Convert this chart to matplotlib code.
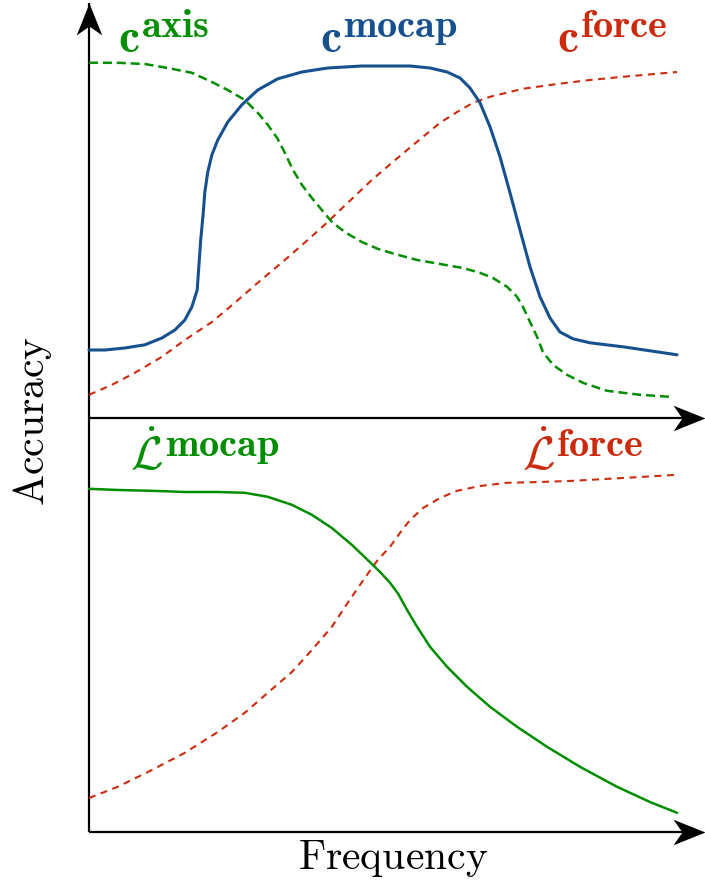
import matplotlib
matplotlib.use("Agg")
import matplotlib.pyplot as plt
from matplotlib.path import Path

plt.rcParams["mathtext.fontset"] = "cm"
plt.rcParams["lines.scale_dashes"] = False

# ---------------- data (frequency in [0,1], accuracy in axis units) ----------------
# top panel
c_mocap_f = [0, 0.027, 0.061, 0.095, 0.124, 0.146, 0.163, 0.175, 0.184, 0.187, 0.190, 0.194,
             0.197, 0.202, 0.209, 0.219, 0.236, 0.260, 0.287, 0.321, 0.362, 0.406, 0.464,
             0.520, 0.546, 0.580, 0.609, 0.631, 0.648, 0.665, 0.682, 0.699, 0.716, 0.733,
             0.750, 0.767, 0.784, 0.801, 0.823, 0.852, 0.908, 1.0]
c_mocap_v = [0.170, 0.170, 0.175, 0.183, 0.200, 0.220, 0.245, 0.278, 0.320, 0.383, 0.445, 0.508,
             0.565, 0.615, 0.658, 0.695, 0.740, 0.783, 0.820, 0.848, 0.865, 0.875, 0.880,
             0.880, 0.880, 0.875, 0.865, 0.850, 0.825, 0.788, 0.728, 0.653, 0.563, 0.470,
             0.378, 0.303, 0.250, 0.215, 0.198, 0.188, 0.178, 0.158]

c_axis_f = [0, 0.049, 0.095, 0.134, 0.175, 0.209, 0.236, 0.265, 0.287, 0.304, 0.320, 0.333,
            0.347, 0.362, 0.379, 0.396, 0.413, 0.435, 0.464, 0.491, 0.520, 0.558, 0.597,
            0.636, 0.665, 0.687, 0.711, 0.728, 0.738, 0.750, 0.762, 0.772, 0.789, 0.813,
            0.840, 0.881, 0.937, 0.988]
c_axis_v = [0.888, 0.888, 0.885, 0.875, 0.863, 0.840, 0.820, 0.795, 0.763, 0.733, 0.700, 0.663,
            0.620, 0.583, 0.550, 0.520, 0.490, 0.465, 0.440, 0.423, 0.410, 0.395, 0.385,
            0.375, 0.363, 0.350, 0.328, 0.303, 0.278, 0.240, 0.203, 0.165, 0.133, 0.108,
            0.088, 0.068, 0.058, 0.053]

c_force_f = [0, 0.039, 0.078, 0.124, 0.163, 0.209, 0.248, 0.287, 0.333, 0.372, 0.406, 0.440,
             0.481, 0.515, 0.541, 0.568, 0.597, 0.626, 0.653, 0.682, 0.738, 0.796, 0.852,
             0.908, 1.0]
c_force_v = [0.058, 0.083, 0.113, 0.153, 0.195, 0.240, 0.288, 0.338, 0.395, 0.445, 0.490, 0.538,
             0.595, 0.638, 0.670, 0.703, 0.738, 0.765, 0.788, 0.803, 0.823, 0.835, 0.845,
             0.853, 0.865]

# bottom panel
l_mocap_f = [0, 0.049, 0.107, 0.163, 0.219, 0.265, 0.304, 0.345, 0.379, 0.413, 0.447, 0.474,
             0.495, 0.512, 0.526, 0.541, 0.558, 0.580, 0.609, 0.643, 0.682, 0.728, 0.779,
             0.835, 0.898, 0.954, 1.0]
l_mocap_v = [0.858, 0.855, 0.853, 0.850, 0.850, 0.848, 0.838, 0.818, 0.793, 0.760, 0.718, 0.680,
             0.650, 0.623, 0.595, 0.555, 0.513, 0.463, 0.413, 0.363, 0.313, 0.263, 0.213,
             0.163, 0.113, 0.075, 0.048]

l_force_f = [0, 0.049, 0.107, 0.163, 0.219, 0.265, 0.304, 0.345, 0.379, 0.413, 0.440, 0.469,
             0.491, 0.512, 0.529, 0.546, 0.568, 0.597, 0.626, 0.665, 0.711, 0.767, 0.823,
             0.908, 1.0]
l_force_v = [0.085, 0.113, 0.155, 0.198, 0.250, 0.298, 0.348, 0.400, 0.455, 0.513, 0.573, 0.635,
             0.680, 0.713, 0.748, 0.780, 0.810, 0.835, 0.853, 0.865, 0.873, 0.875, 0.878,
             0.885, 0.893]

top_bases = [r"$\mathbf{c}$", r"$\mathbf{c}$", r"$\mathbf{c}$"]
top_sups = [r"$\mathbf{axis}$", r"$\mathbf{mocap}$", r"$\mathbf{force}$"]
bottom_bases = [r"$\dot{\mathcal{L}}$", r"$\dot{\mathcal{L}}$"]
bottom_sups = [r"$\mathbf{mocap}$", r"$\mathbf{force}$"]
x_label = r"$\mathrm{Frequency}$"
y_label = r"$\mathrm{Accuracy}$"

GREEN = "#008E00"
BLUE = "#17508E"
RED = "#CC2A0C"

W, H = 705, 885
fig = plt.figure(figsize=(W / 100, H / 100), dpi=100)

XMAX = 616 / 588
ax_top = fig.add_axes([89 / W, (H - 418) / H, 616 / W, 418 / H])
ax_bot = fig.add_axes([89 / W, (H - 832) / H, 616 / W, 414 / H])
ax_top.set_xlim(0, XMAX)
ax_top.set_ylim(0, 418 / 400)
ax_bot.set_xlim(0, XMAX)
ax_bot.set_ylim(0, 414 / 400)
for ax in (ax_top, ax_bot):
    ax.set_axis_off()

# arrow head markers (stealth style)
right_head = Path([(0, 0), (-1, 0.40), (-0.72, 0), (-1, -0.40), (0, 0)],
                  [Path.MOVETO, Path.LINETO, Path.LINETO, Path.LINETO, Path.CLOSEPOLY])
up_head = Path([(0, 0), (0.40, -1), (0, -0.72), (-0.40, -1), (0, 0)],
               [Path.MOVETO, Path.LINETO, Path.LINETO, Path.LINETO, Path.CLOSEPOLY])
AX_LW = 1.6
HEAD = 46

# axes lines
ax_top.plot([0, 0], [0, 415 / 400], color="black", lw=AX_LW, clip_on=False, solid_capstyle="butt")
ax_top.plot([0], [415 / 400], marker=up_head, ms=HEAD, color="black", mew=0, clip_on=False)
ax_bot.plot([0, 0], [0, 414 / 400], color="black", lw=AX_LW, clip_on=False, solid_capstyle="butt")
for ax in (ax_top, ax_bot):
    ax.plot([0, XMAX - 0.01], [0, 0], color="black", lw=AX_LW, clip_on=False, solid_capstyle="butt")
    ax.plot([XMAX], [0], marker=right_head, ms=HEAD, color="black", mew=0, clip_on=False)

# top curves
ax_top.plot(c_force_f, c_force_v, color=RED, lw=1.5, dashes=(5.0, 4.0), clip_on=False)
ax_top.plot(c_axis_f, c_axis_v, color=GREEN, lw=1.8, dashes=(6.5, 3.5), clip_on=False)
ax_top.plot(c_mocap_f, c_mocap_v, color=BLUE, lw=2.2, clip_on=False,
            solid_joinstyle="round", solid_capstyle="round")

# bottom curves
ax_bot.plot(l_force_f, l_force_v, color=RED, lw=1.5, dashes=(5.0, 4.0), clip_on=False)
ax_bot.plot(l_mocap_f, l_mocap_v, color=GREEN, lw=1.8, clip_on=False,
            solid_joinstyle="round", solid_capstyle="round")

# labels: base symbol + larger superscript placed right after it
BASE_FS = 34
SUP_FS = 29
renderer = fig.canvas.get_renderer()


def label(ax, x, y, base, sup, color, rise_pt):
    t = ax.text(x, y, base, color=color, fontsize=BASE_FS, ha="left", va="baseline")
    bb = t.get_window_extent(renderer=renderer)
    x0 = ax.transData.transform((x, y))[0]
    dx_pt = (bb.x1 - x0) * 72 / fig.dpi + 1.0
    ax.annotate(sup, xy=(x, y), xycoords="data", xytext=(dx_pt, rise_pt),
                textcoords="offset points", color=color, fontsize=SUP_FS,
                ha="left", va="baseline")


label(ax_top, 0.049, 0.915, top_bases[0], top_sups[0], GREEN, 11)
label(ax_top, 0.393, 0.915, top_bases[1], top_sups[1], BLUE, 11)
label(ax_top, 0.796, 0.915, top_bases[2], top_sups[2], RED, 11)
label(ax_bot, 0.070, 0.905, bottom_bases[0], bottom_sups[0], GREEN, 10)
label(ax_bot, 0.736, 0.905, bottom_bases[1], bottom_sups[1], RED, 10)

fig.text(393 / W, 1 - 858 / H, x_label, fontsize=30, ha="center", va="center")
fig.text(32 / W, 1 - 421 / H, y_label, fontsize=30, ha="center", va="center", rotation=90)

fig.savefig("out.png", dpi=100)
